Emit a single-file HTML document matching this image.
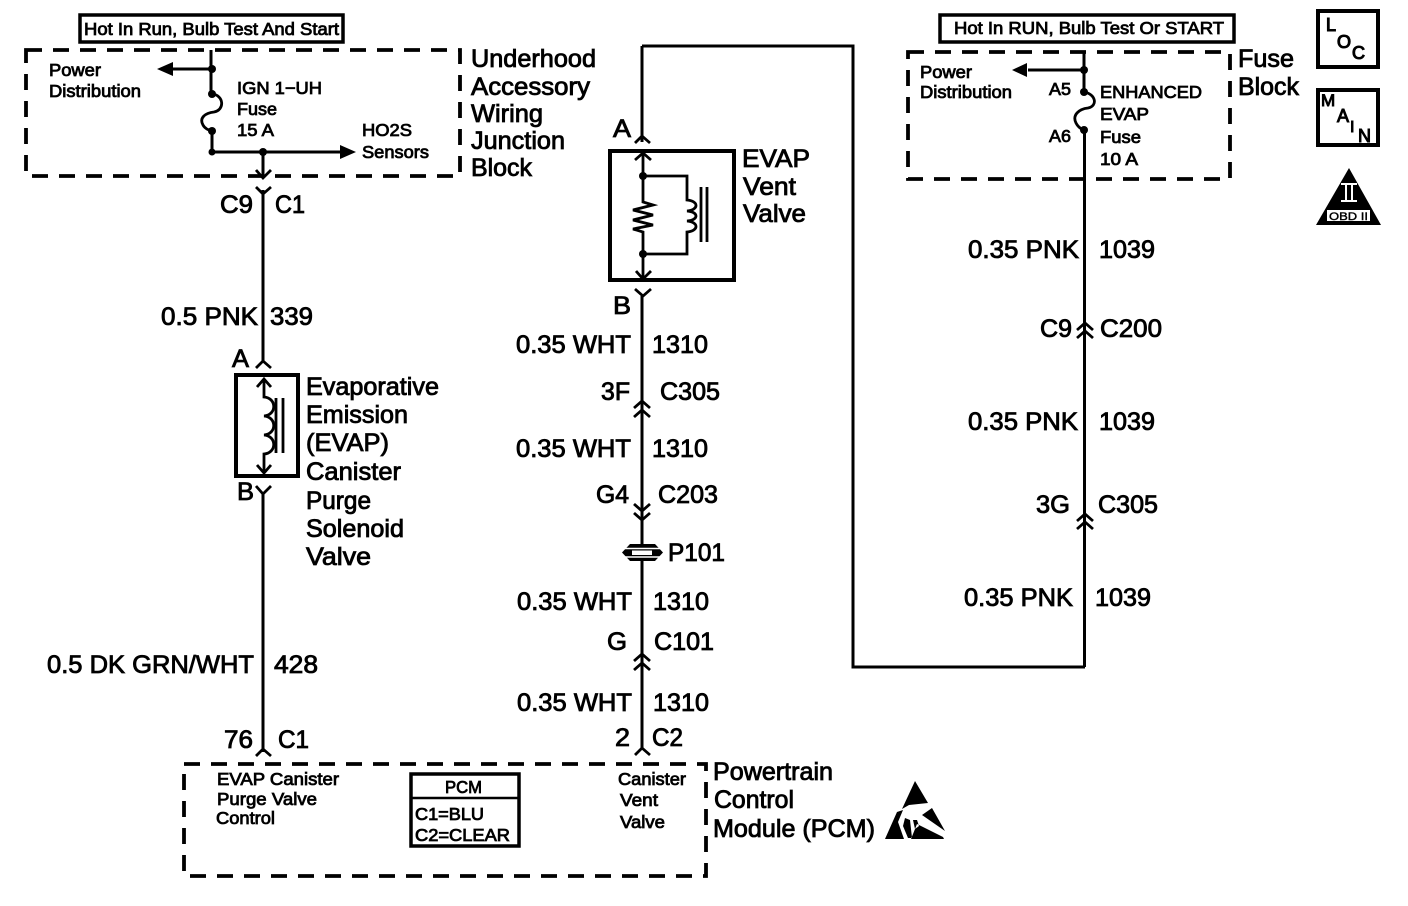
<!DOCTYPE html>
<html><head><meta charset="utf-8"><style>
html,body{margin:0;padding:0;background:#fff;width:1408px;height:906px;overflow:hidden}
svg{display:block}
text{font-family:"Liberation Sans",sans-serif;fill:#000;stroke:#000}
.b{font-size:25px;stroke-width:.85px}
.s{font-size:17.5px;stroke-width:.8px}
.l{fill:none;stroke:#000;stroke-width:3}
.t{fill:none;stroke:#000;stroke-width:2.8}
.d{fill:none;stroke:#000;stroke-width:3.8;stroke-dasharray:16 11}
.f{fill:#000;stroke:none}
.v{fill:none;stroke:#000;stroke-width:2.8}
</style></head><body>
<svg width="1408" height="906" viewBox="0 0 1408 906" xmlns="http://www.w3.org/2000/svg">
<rect width="1408" height="906" fill="#fff"/>

<!-- left top -->
<rect x="80" y="15" width="263" height="27" fill="none" stroke="#000" stroke-width="3.500"/>
<text class="s" x="84" y="35" textLength="255" lengthAdjust="spacingAndGlyphs">Hot In Run, Bulb Test And Start</text>
<rect class="d" x="26" y="50" width="434" height="126"/>
<path class="l" d="M211 50V94M212 131V152H340M172 69H211M263 152V176M263 190V300"/>
<path class="f" d="M157 69L173 62V76ZM356 152L340 145V159Z"/>
<circle class="f" cx="212" cy="69" r="4"/><circle class="f" cx="212" cy="94" r="4"/><circle class="f" cx="212" cy="131" r="4"/><circle class="f" cx="212" cy="152" r="3.500"/><circle class="f" cx="263" cy="152" r="4"/>
<path class="t" d="M212 94C224 95 225 110 214 112C205 113 199 118 203 125C205 129 209 130 212 131"/>
<path class="v" d="M256 170L263 178L271 170M256 187L263 194L271 187"/>
<text class="s" x="49" y="76" textLength="52" lengthAdjust="spacingAndGlyphs">Power</text>
<text class="s" x="49" y="97" textLength="92" lengthAdjust="spacingAndGlyphs">Distribution</text>
<text class="s" x="237" y="94" textLength="85" lengthAdjust="spacingAndGlyphs">IGN 1−UH</text>
<text class="s" x="237" y="115" textLength="40" lengthAdjust="spacingAndGlyphs">Fuse</text>
<text class="s" x="237" y="136" textLength="37" lengthAdjust="spacingAndGlyphs">15 A</text>
<text class="s" x="362" y="136" textLength="50" lengthAdjust="spacingAndGlyphs">HO2S</text>
<text class="s" x="362" y="158" textLength="67" lengthAdjust="spacingAndGlyphs">Sensors</text>
<text class="b" x="471" y="67" textLength="125" lengthAdjust="spacingAndGlyphs">Underhood</text>
<text class="b" x="471" y="95" textLength="119" lengthAdjust="spacingAndGlyphs">Accessory</text>
<text class="b" x="471" y="122" textLength="72" lengthAdjust="spacingAndGlyphs">Wiring</text>
<text class="b" x="471" y="149" textLength="94" lengthAdjust="spacingAndGlyphs">Junction</text>
<text class="b" x="471" y="176" textLength="61" lengthAdjust="spacingAndGlyphs">Block</text>
<text class="b" x="220" y="213" textLength="33" lengthAdjust="spacingAndGlyphs">C9</text>
<text class="b" x="275" y="213" textLength="30" lengthAdjust="spacingAndGlyphs">C1</text>
<text class="b" x="161" y="325" textLength="97" lengthAdjust="spacingAndGlyphs">0.5 PNK</text>
<text class="b" x="270" y="325" textLength="43" lengthAdjust="spacingAndGlyphs">339</text>

<!-- solenoid -->
<path class="l" d="M263 190V362"/>
<rect x="236" y="375" width="62" height="101" fill="#fff" stroke="#000" stroke-width="4"/>
<path class="v" d="M256 368L263 361L271 368M257 387L264 379L271 387M257 465L264 473L271 465M256 486L263 494L271 486" />
<path class="t" d="M264 379V397C277 398 277 415 264 416C277 417 277 434 264 435C277 436 277 453 264 454V473"/>
<path class="l" d="M263 494V752"/>
<path class="t" d="M276 398V453M283 398V453"/>
<text class="b" x="232" y="367" textLength="17" lengthAdjust="spacingAndGlyphs">A</text>
<text class="b" x="237" y="500" textLength="17" lengthAdjust="spacingAndGlyphs">B</text>
<text class="b" x="306" y="395" textLength="133" lengthAdjust="spacingAndGlyphs">Evaporative</text>
<text class="b" x="306" y="423" textLength="102" lengthAdjust="spacingAndGlyphs">Emission</text>
<text class="b" x="306" y="451" textLength="83" lengthAdjust="spacingAndGlyphs">(EVAP)</text>
<text class="b" x="306" y="480" textLength="95" lengthAdjust="spacingAndGlyphs">Canister</text>
<text class="b" x="306" y="509" textLength="65" lengthAdjust="spacingAndGlyphs">Purge</text>
<text class="b" x="306" y="537" textLength="98" lengthAdjust="spacingAndGlyphs">Solenoid</text>
<text class="b" x="306" y="565" textLength="65" lengthAdjust="spacingAndGlyphs">Valve</text>
<text class="b" x="47" y="673" textLength="207" lengthAdjust="spacingAndGlyphs">0.5 DK GRN/WHT</text>
<text class="b" x="274" y="673" textLength="44" lengthAdjust="spacingAndGlyphs">428</text>
<text class="b" x="224" y="748" textLength="29" lengthAdjust="spacingAndGlyphs">76</text>
<text class="b" x="278" y="748" textLength="31" lengthAdjust="spacingAndGlyphs">C1</text>
<path class="v" d="M256 756L263 749L271 756M635 755L642 748L650 755"/>

<!-- PCM -->
<rect class="d" x="184" y="764" width="522" height="112"/>
<rect x="411" y="774" width="108" height="72" fill="none" stroke="#000" stroke-width="3.500"/>
<path d="M411 798H519" stroke="#000" stroke-width="2.500" fill="none"/>
<text class="s" x="445" y="793" textLength="37" lengthAdjust="spacingAndGlyphs">PCM</text>
<text class="s" x="415" y="820" textLength="69" lengthAdjust="spacingAndGlyphs">C1=BLU</text>
<text class="s" x="415" y="841" textLength="95" lengthAdjust="spacingAndGlyphs">C2=CLEAR</text>
<text class="s" x="217" y="785" textLength="122" lengthAdjust="spacingAndGlyphs">EVAP Canister</text>
<text class="s" x="217" y="805" textLength="100" lengthAdjust="spacingAndGlyphs">Purge Valve</text>
<text class="s" x="216" y="824" textLength="59" lengthAdjust="spacingAndGlyphs">Control</text>
<text class="s" x="618" y="785" textLength="68" lengthAdjust="spacingAndGlyphs">Canister</text>
<text class="s" x="620" y="806" textLength="38" lengthAdjust="spacingAndGlyphs">Vent</text>
<text class="s" x="620" y="828" textLength="45" lengthAdjust="spacingAndGlyphs">Valve</text>
<text class="b" x="713" y="780" textLength="120" lengthAdjust="spacingAndGlyphs">Powertrain</text>
<text class="b" x="714" y="808" textLength="80" lengthAdjust="spacingAndGlyphs">Control</text>
<text class="b" x="713" y="837" textLength="162" lengthAdjust="spacingAndGlyphs">Module (PCM)</text>
<path class="f" d="M915 781L928 803L909 805L902 809ZM897 812L885 839H904L898 822L903 810ZM905 818L903 826L908 838H912L910 820ZM913 820L915 829L919 826L917 820ZM922 815L932 808L945 831ZM917 824L943 837L944 839H911Z"/>

<!-- middle -->
<path class="l" d="M642 46V142M642 296V748M642 46H853V667H1085"/>
<path class="v" d="M635 143L642 136L650 143M635 160L643 152L651 160"/>
<text class="b" x="613" y="137" textLength="18" lengthAdjust="spacingAndGlyphs">A</text>
<rect x="610" y="151" width="124" height="129" fill="#fff" stroke="#000" stroke-width="4"/>
<path class="v" d="M635 160L643 153L651 160M636 271L643 279L651 271M635 289L643 296L651 289"/>
<path class="t" d="M643 154V202L653 205L633 210L653 215L633 220L653 225L633 229L643 232V279M643 176H687V200C699 201 699 210 687 211C699 212 699 220 687 221C699 222 699 231 687 232V254H643"/>
<path class="t" d="M701 187V242M707 187V242"/>
<circle class="f" cx="643" cy="176" r="4"/><circle class="f" cx="643" cy="254" r="4"/>
<text class="b" x="613" y="314" textLength="18" lengthAdjust="spacingAndGlyphs">B</text>
<text class="b" x="742" y="167" textLength="68" lengthAdjust="spacingAndGlyphs">EVAP</text>
<text class="b" x="743" y="195" textLength="53" lengthAdjust="spacingAndGlyphs">Vent</text>
<text class="b" x="743" y="222" textLength="63" lengthAdjust="spacingAndGlyphs">Valve</text>

<text class="b" x="516" y="353" textLength="115" lengthAdjust="spacingAndGlyphs">0.35 WHT</text>
<text class="b" x="652" y="353" textLength="56" lengthAdjust="spacingAndGlyphs">1310</text>
<text class="b" x="601" y="400" textLength="29" lengthAdjust="spacingAndGlyphs">3F</text>
<text class="b" x="660" y="400" textLength="60" lengthAdjust="spacingAndGlyphs">C305</text>
<path class="v" d="M634 408L642 401L650 408M634 417L642 410L650 417"/>
<text class="b" x="516" y="457" textLength="115" lengthAdjust="spacingAndGlyphs">0.35 WHT</text>
<text class="b" x="652" y="457" textLength="56" lengthAdjust="spacingAndGlyphs">1310</text>
<text class="b" x="596" y="503" textLength="33" lengthAdjust="spacingAndGlyphs">G4</text>
<text class="b" x="658" y="503" textLength="60" lengthAdjust="spacingAndGlyphs">C203</text>
<path class="v" d="M634 504L642 511L650 504M634 513L642 520L650 513"/>
<!-- P101 clip -->
<path class="f" d="M622 552.500L630 544H655L663 552.500L655 561H630Z"/>
<path d="M620 548.500H665M620 557H665" stroke="#fff" stroke-width="1.600"/>
<rect x="632" y="550.500" width="20" height="4.500" fill="#fff"/>
<text class="b" x="668" y="561" textLength="57" lengthAdjust="spacingAndGlyphs">P101</text>
<text class="b" x="517" y="610" textLength="115" lengthAdjust="spacingAndGlyphs">0.35 WHT</text>
<text class="b" x="653" y="610" textLength="56" lengthAdjust="spacingAndGlyphs">1310</text>
<text class="b" x="607" y="650" textLength="20" lengthAdjust="spacingAndGlyphs">G</text>
<text class="b" x="654" y="650" textLength="60" lengthAdjust="spacingAndGlyphs">C101</text>
<path class="v" d="M634 661L642 654L650 661M634 670L642 663L650 670"/>
<text class="b" x="517" y="711" textLength="115" lengthAdjust="spacingAndGlyphs">0.35 WHT</text>
<text class="b" x="653" y="711" textLength="56" lengthAdjust="spacingAndGlyphs">1310</text>
<text class="b" x="615" y="746" textLength="15" lengthAdjust="spacingAndGlyphs">2</text>
<text class="b" x="652" y="746" textLength="31" lengthAdjust="spacingAndGlyphs">C2</text>

<!-- right -->
<rect x="940" y="15" width="294" height="27" fill="none" stroke="#000" stroke-width="3.500"/>
<text class="s" x="954" y="34" textLength="270" lengthAdjust="spacingAndGlyphs">Hot In RUN, Bulb Test Or START</text>
<rect class="d" x="908" y="52" width="322" height="127"/>
<path class="l" d="M1084 52V92M1084.500 130V667" stroke-width="3.400"/>
<path class="l" d="M1028 70H1084"/>
<path class="f" d="M1012 70L1027 63V77Z"/>
<circle class="f" cx="1084" cy="70" r="4"/><circle class="f" cx="1084" cy="92" r="4"/><circle class="f" cx="1084" cy="130" r="4"/>
<path class="t" d="M1084 92C1096 94 1098 106 1088 108C1079 109 1072 115 1076 123C1078 127 1081 129 1084 130"/>
<text class="s" x="920" y="78" textLength="52" lengthAdjust="spacingAndGlyphs">Power</text>
<text class="s" x="920" y="98" textLength="92" lengthAdjust="spacingAndGlyphs">Distribution</text>
<text class="s" x="1049" y="95" textLength="22" lengthAdjust="spacingAndGlyphs">A5</text>
<text class="s" x="1049" y="142" textLength="22" lengthAdjust="spacingAndGlyphs">A6</text>
<text class="s" x="1100" y="98" textLength="102" lengthAdjust="spacingAndGlyphs">ENHANCED</text>
<text class="s" x="1100" y="120" textLength="49" lengthAdjust="spacingAndGlyphs">EVAP</text>
<text class="s" x="1100" y="143" textLength="41" lengthAdjust="spacingAndGlyphs">Fuse</text>
<text class="s" x="1100" y="165" textLength="38" lengthAdjust="spacingAndGlyphs">10 A</text>
<text class="b" x="1238" y="67" textLength="56" lengthAdjust="spacingAndGlyphs">Fuse</text>
<text class="b" x="1238" y="95" textLength="61" lengthAdjust="spacingAndGlyphs">Block</text>

<text class="b" x="968" y="258" textLength="111" lengthAdjust="spacingAndGlyphs">0.35 PNK</text>
<text class="b" x="1099" y="258" textLength="56" lengthAdjust="spacingAndGlyphs">1039</text>
<text class="b" x="1040" y="337" textLength="32" lengthAdjust="spacingAndGlyphs">C9</text>
<text class="b" x="1100" y="337" textLength="62" lengthAdjust="spacingAndGlyphs">C200</text>
<rect x="1076" y="318" width="18" height="7" fill="#fff" opacity="0"/>
<path class="v" d="M1077 330L1085 323L1093 330M1077 338L1085 331L1093 338"/>
<text class="b" x="968" y="430" textLength="110" lengthAdjust="spacingAndGlyphs">0.35 PNK</text>
<text class="b" x="1099" y="430" textLength="56" lengthAdjust="spacingAndGlyphs">1039</text>
<text class="b" x="1036" y="513" textLength="34" lengthAdjust="spacingAndGlyphs">3G</text>
<text class="b" x="1098" y="513" textLength="60" lengthAdjust="spacingAndGlyphs">C305</text>
<path class="v" d="M1077 521L1085 514L1093 521M1077 529L1085 522L1093 529"/>
<text class="b" x="964" y="606" textLength="109" lengthAdjust="spacingAndGlyphs">0.35 PNK</text>
<text class="b" x="1095" y="606" textLength="56" lengthAdjust="spacingAndGlyphs">1039</text>

<!-- icons -->
<rect x="1318" y="11" width="60" height="56" fill="none" stroke="#000" stroke-width="4"/>
<text x="1326" y="31" style="font-size:18px;stroke-width:1.100px">L</text>
<text x="1337" y="48" style="font-size:18px;stroke-width:1.100px">O</text>
<text x="1352" y="59" style="font-size:18px;stroke-width:1.100px">C</text>
<rect x="1318" y="90" width="60" height="55" fill="none" stroke="#000" stroke-width="4"/>
<text x="1321" y="106" style="font-size:17px;stroke-width:1px">M</text>
<text x="1337" y="122" style="font-size:18px;stroke-width:1px">A</text>
<text x="1350" y="132" style="font-size:16px;stroke-width:1px">I</text>
<text x="1358" y="142" style="font-size:18px;stroke-width:1px">N</text>
<path class="f" d="M1349 168L1381 225H1316Z"/>
<path d="M1341 184H1357M1341 201H1357M1346 184V201M1352 184V201" stroke="#fff" stroke-width="2" fill="none"/>
<rect x="1327" y="210" width="43" height="11" fill="#fff"/>
<text x="1329" y="220" textLength="39" lengthAdjust="spacingAndGlyphs" style="font-size:11px;stroke-width:.4px">OBD II</text>
</svg>
</body></html>
